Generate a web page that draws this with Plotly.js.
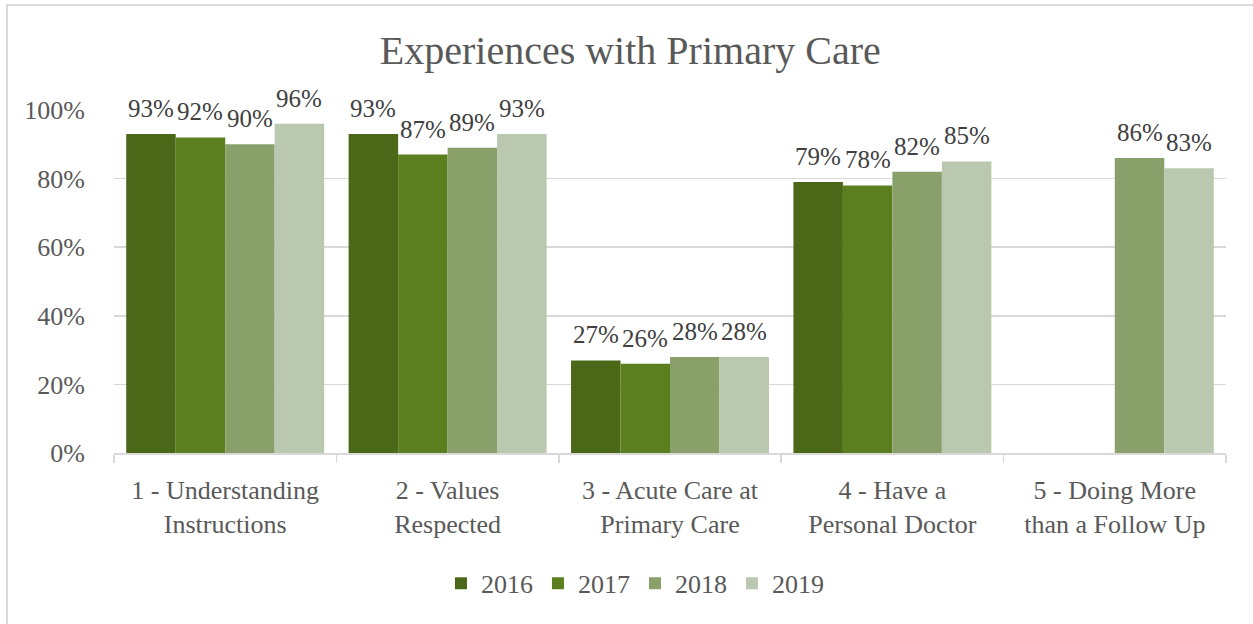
<!DOCTYPE html>
<html>
<head>
<meta charset="utf-8">
<script src="https://cdn.plot.ly/plotly-3.0.1.min.js"></script>
<style>
html,body{margin:0;padding:0;background:#fff;}
#frame{position:absolute;left:6px;top:4px;width:1260px;height:640px;border-left:2px solid #d9d9d9;border-top:2px solid #d9d9d9;box-sizing:border-box;pointer-events:none;z-index:5;}
#chart{position:absolute;left:0;top:0;width:1253px;height:624px;}
</style>
</head>
<body>
<div id="chart"></div>
<div id="frame"></div>
<script>
const categories = ["1 - Understanding<br>Instructions", "2 - Values<br>Respected", "3 - Acute Care at<br>Primary Care", "4 - Have a<br>Personal Doctor", "5 - Doing More<br>than a Follow Up"];
const years = ["2016", "2017", "2018", "2019"];
const v2016 = [0.93, 0.93, 0.27, 0.79, null];
const v2017 = [0.92, 0.87, 0.26, 0.78, null];
const v2018 = [0.90, 0.89, 0.28, 0.82, 0.86];
const v2019 = [0.96, 0.93, 0.28, 0.85, 0.83];
const colors = ["#4b6718", "#5b7f1e", "#89a06b", "#bbc8b0"];
const series = [v2016, v2017, v2018, v2019];

const FONT = "Liberation Serif, DejaVu Serif, serif";
const W = 1253, H = 624;
const M = {l: 114, r: 27, t: 110, b: 171};
const BARGAP = 0.11;

const traces = series.map((vals, i) => ({
  type: "bar",
  name: years[i],
  x: categories,
  y: vals,
  marker: {color: colors[i], line: {width: 0}},
  hoverinfo: "skip"
}));

// data labels as annotations, offset to each bar's slot within its group
const catW = (W - M.l - M.r) / categories.length;
const barW = catW * (1 - BARGAP) / series.length;
const annotations = [];
series.forEach((vals, i) => {
  const dx = (i - (series.length - 1) / 2) * barW;
  vals.forEach((v, j) => {
    if (v === null) return;
    annotations.push({
      x: j, y: v, xref: "x", yref: "y",
      text: Math.round(v * 100) + "%",
      showarrow: false, xshift: dx, yshift: 10,
      yanchor: "bottom", xanchor: "center",
      font: {family: FONT, size: 25, color: "#404040"}
    });
  });
});

const layout = {
  width: W, height: H,
  paper_bgcolor: "#ffffff", plot_bgcolor: "#ffffff",
  margin: M,
  font: {family: FONT, color: "#595959"},
  title: {text: "Experiences with Primary Care", x: 0.503, xanchor: "center", xref: "container", y: 0.92, yanchor: "middle", yref: "container",
          font: {family: FONT, size: 40, color: "#595959"}},
  barmode: "group",
  bargap: BARGAP,
  bargroupgap: 0,
  showlegend: true,
  legend: {orientation: "h", x: 0.4685, xanchor: "center", y: -0.38, yanchor: "middle",
           font: {family: FONT, size: 26, color: "#595959"}, traceorder: "normal"},
  annotations: annotations,
  xaxis: {
    type: "category",
    automargin: false,
    tickangle: 0,
    showgrid: false,
    showline: true, linecolor: "#d9d9d9", linewidth: 1.5,
    ticks: "outside", tickson: "boundaries", ticklen: 8, tickcolor: "#d9d9d9", tickwidth: 1.5,
    ticklabelstandoff: 13,
    tickfont: {family: FONT, size: 26, color: "#595959"},
    fixedrange: true
  },
  yaxis: {
    automargin: false,
    range: [0, 1.0],
    tickvals: [0, 0.2, 0.4, 0.6, 0.8, 1.0],
    tickformat: ".0%",
    showgrid: true, gridcolor: "#d9d9d9", gridwidth: 1.5,
    zeroline: false, showline: false,
    ticks: "", ticklen: 0,
    ticklabelstandoff: 28,
    tickfont: {family: FONT, size: 26, color: "#595959"},
    fixedrange: true
  }
};

Plotly.newPlot("chart", traces, layout, {displayModeBar: false, staticPlot: true});
</script>
</body>
</html>
